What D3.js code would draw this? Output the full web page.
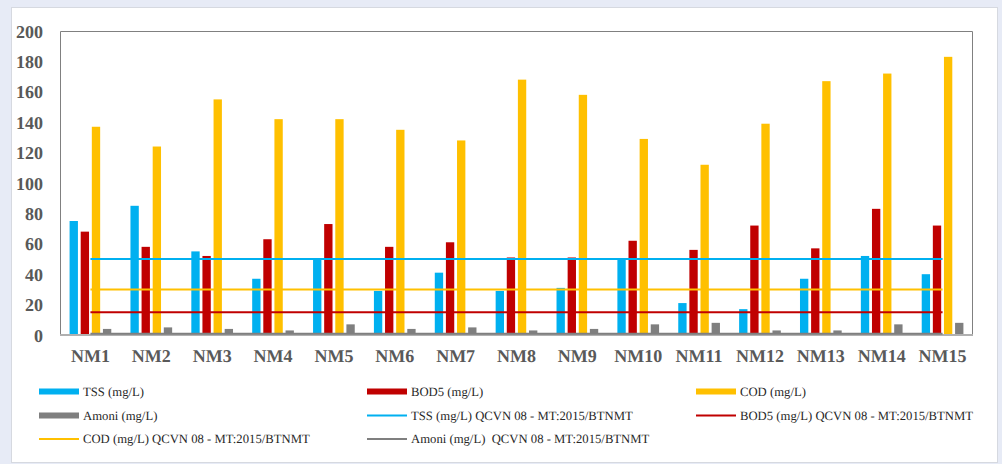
<!DOCTYPE html>
<html>
<head>
<meta charset="utf-8">
<script src="https://cdn.jsdelivr.net/npm/d3@7"></script>
<style>
  html, body { margin: 0; padding: 0; background: #e7ebf6; }
  svg { display: block; }
  .serif { font-family: "Liberation Serif", "Times New Roman", serif; text-rendering: geometricPrecision; }
</style>
</head>
<body>
<svg id="chart" width="1002" height="464"></svg>
<script>
// Sampling points
const categories = ["NM1","NM2","NM3","NM4","NM5","NM6","NM7","NM8","NM9","NM10","NM11","NM12","NM13","NM14","NM15"];

// Measured concentrations (mg/L)
const tss   = [75, 85, 55, 37, 50, 29, 41, 29, 31, 50, 21, 17, 37, 52, 40];
const bod5  = [68, 58, 52, 63, 73, 58, 61, 51, 51, 62, 56, 72, 57, 83, 72];
const cod   = [137, 124, 155, 142, 142, 135, 128, 168, 158, 129, 112, 139, 167, 172, 183];
const amoni = [4, 5, 4, 3, 7, 4, 5, 3, 4, 7, 8, 3, 3, 7, 8];

// QCVN 08-MT:2015/BTNMT limits (column B1)
const limitTSS = 50, limitBOD5 = 15, limitCOD = 30, limitAmoni = 0.9;

const yTicks = [0, 20, 40, 60, 80, 100, 120, 140, 160, 180, 200];

const barSeries = [
  { name: "TSS (mg/L)",   values: tss,   color: "#00b0f0" },
  { name: "BOD5 (mg/L)",  values: bod5,  color: "#c00000" },
  { name: "COD (mg/L)",   values: cod,   color: "#ffc000" },
  { name: "Amoni (mg/L)", values: amoni, color: "#7f7f7f" }
];
const lineSeries = [
  { name: "TSS (mg/L) QCVN 08 - MT:2015/BTNMT",    value: limitTSS,   color: "#00b0f0" },
  { name: "BOD5 (mg/L) QCVN 08 - MT:2015/BTNMT",   value: limitBOD5,  color: "#c00000" },
  { name: "COD (mg/L) QCVN 08 - MT:2015/BTNMT",    value: limitCOD,   color: "#ffc000" },
  { name: "Amoni (mg/L)  QCVN 08 - MT:2015/BTNMT", value: limitAmoni, color: "#7f7f7f" }
];

const svg = d3.select("#chart");

// white card
svg.append("rect")
  .attr("x", 11.5).attr("y", 7.5).attr("width", 986).attr("height", 455)
  .attr("fill", "#ffffff").attr("stroke", "#d6d9e0").attr("stroke-width", 1);

const plot = { left: 60, top: 31, right: 973, bottom: 335 };

const x0 = d3.scaleBand().domain(categories)
  .range([plot.left, plot.right]).paddingInner(0.315).paddingOuter(0.1575);
const x1 = d3.scaleBand().domain(barSeries.map(d => d.name))
  .range([0, x0.bandwidth()]).paddingInner(0.25).paddingOuter(0);
const y = d3.scaleLinear().domain([0, 200]).range([plot.bottom, plot.top]);

// plot frame
svg.append("path")
  .attr("d", `M${plot.left + 0.5},${plot.bottom} V${plot.top + 0.5} H${plot.right - 0.5} V${plot.bottom}`)
  .attr("fill", "none").attr("stroke", "#808080").attr("stroke-width", 1);

// y axis labels
const yAxis = d3.axisLeft(y).tickValues(yTicks).tickSize(0).tickPadding(0);
const yg = svg.append("g").attr("transform", `translate(43,0)`).call(yAxis)
  .attr("font-family", null).attr("font-size", null);
yg.select(".domain").remove();
yg.selectAll("text")
  .attr("class", "serif")
  .style("font-weight", "bold").style("font-size", "18px").attr("fill", "#595959")
  .attr("dy", "0.34em");

// bars
const groups = svg.append("g").selectAll("g")
  .data(categories).join("g")
  .attr("transform", d => `translate(${x0(d)},0)`);
groups.selectAll("rect")
  .data((d, i) => barSeries.map(s => ({ key: s.name, value: s.values[i], color: s.color })))
  .join("rect")
  .attr("x", d => x1(d.key))
  .attr("width", x1.bandwidth())
  .attr("y", d => y(d.value))
  .attr("height", d => y(0) - y(d.value))
  .attr("fill", d => d.color);

// x axis
const xAxis = d3.axisBottom(x0).tickSize(0).tickPadding(0);
const xg = svg.append("g").attr("transform", `translate(0,${plot.bottom})`).call(xAxis)
  .attr("font-family", null).attr("font-size", null);
xg.select(".domain").attr("stroke", "#b0b0b0").attr("stroke-width", 2)
  .attr("d", `M${plot.left},0 H${plot.right}`);
xg.selectAll("text")
  .attr("class", "serif")
  .style("font-weight", "bold").style("font-size", "18px").attr("fill", "#595959")
  .attr("y", 0).attr("dy", "1.48em");

// limit lines from first to last category centre
const xc = d => x0(d) + x0.bandwidth() / 2;
const line = d3.line().x(d => d[0]).y(d => d[1]);
svg.append("g").selectAll("path")
  .data(lineSeries).join("path")
  .attr("d", s => line(categories.map(c => [xc(c), y(s.value)])))
  .attr("fill", "none")
  .attr("stroke", s => s.color)
  .attr("stroke-width", 2);

// legend: three columns, row-major
const legendItems = [
  ...barSeries.map(s => ({ name: s.name, color: s.color, type: "bar" })),
  ...lineSeries.map(s => ({ name: s.name, color: s.color, type: "line" }))
];
const colX = [39, 367, 696];
const rowY = [391.5, 415.5, 439];
const lg = svg.append("g").selectAll("g")
  .data(legendItems).join("g")
  .attr("transform", (d, i) => `translate(${colX[i % 3]},${rowY[Math.floor(i / 3)]})`);
lg.filter(d => d.type === "bar").append("rect")
  .attr("x", 0).attr("y", -3).attr("width", 40).attr("height", 6)
  .attr("fill", d => d.color);
lg.filter(d => d.type === "line").append("line")
  .attr("x1", 0).attr("x2", 40).attr("y1", 0).attr("y2", 0)
  .attr("stroke", d => d.color).attr("stroke-width", 2);
lg.append("text")
  .attr("class", "serif")
  .attr("x", 44).attr("y", 0).attr("dy", "0.35em")
  .style("font-size", "12.7px").attr("fill", "#262626")
  .style("white-space", "pre")
  .text(d => d.name);
</script>
</body>
</html>
